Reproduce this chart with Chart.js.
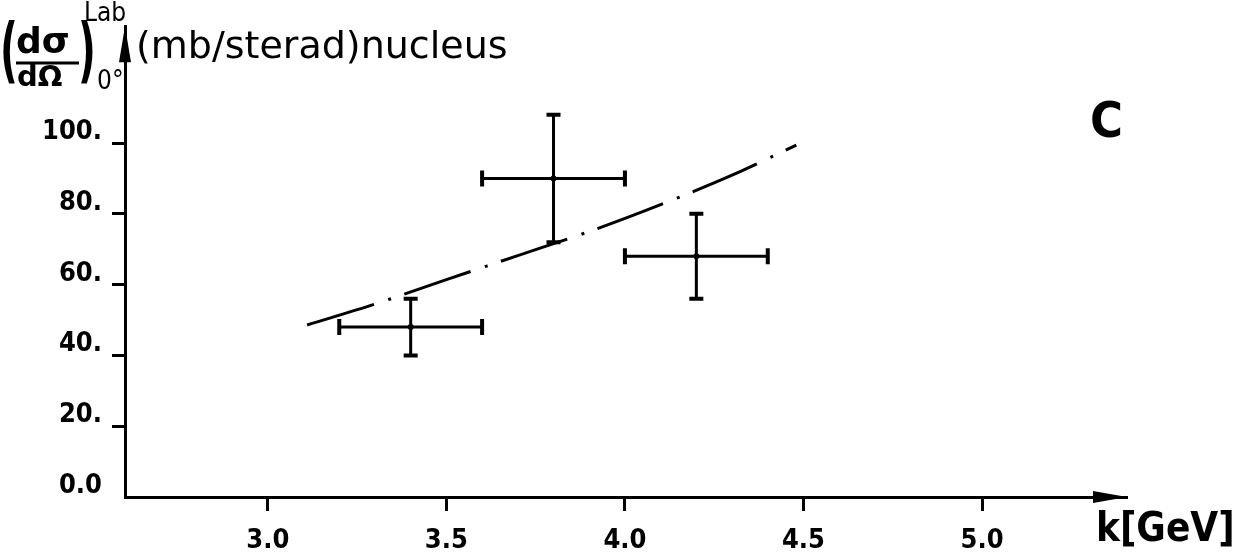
<!DOCTYPE html>
<html>
<head>
<meta charset="utf-8">
<title>Forward cross section, carbon</title>
<script src="https://cdn.jsdelivr.net/npm/chart.js@4.4.1/dist/chart.umd.min.js"></script>
<style>
  html, body { margin: 0; padding: 0; background: #fff; }
  #wrap { width: 1248px; height: 558px; }
</style>
</head>
<body>
<div id="wrap"><canvas id="xs-canvas" width="1248" height="558"></canvas></div>
<script>
    'use strict';

    // measured points, k in GeV, cross section in mb/sterad
    var kValues = [3.4, 3.8, 4.2];
    var kErrors = [0.2, 0.2, 0.2];
    var sigmaValues = [48, 90, 68];
    var sigmaErrors = [8, 18, 12];

    // dash-dot curve
    var curveK = [3.11, 3.3, 3.5, 3.7, 3.9, 4.1, 4.3, 4.48];
    var curveSigma = [48.6, 54.5, 61.4, 68.2, 75, 82.6, 90.9, 99.4];

    // ticks
    var xTicks = [3.0, 3.5, 4.0, 4.5, 5.0];
    var xTickLabels = ['3.0', '3.5', '4.0', '4.5', '5.0'];
    var yTicks = [0, 20, 40, 60, 80, 100];
    var yTickLabels = ['0.0', '20.', '40.', '60.', '80.', '100.'];

    var tickFont = "'DejaVu Sans Condensed', 'DejaVu Sans', sans-serif";

    function toPoints(xs, ys) {
        var out = [];
        for (var i = 0; i < xs.length; i++) {
            out.push({x: xs[i], y: ys[i]});
        }
        return out;
    }

    // crosses with end caps
    var errorBars = {
        id: 'errorBars',
        afterDatasetsDraw: function(chart) {
            var ctx = chart.ctx;
            var xs = chart.scales.x;
            var ys = chart.scales.y;
            ctx.save();
            ctx.strokeStyle = '#000';
            ctx.lineWidth = 3;
            for (var i = 0; i < kValues.length; i++) {
                var x = xs.getPixelForValue(kValues[i]);
                var x0 = xs.getPixelForValue(kValues[i] - kErrors[i]);
                var x1 = xs.getPixelForValue(kValues[i] + kErrors[i]);
                var y = ys.getPixelForValue(sigmaValues[i]);
                var yt = ys.getPixelForValue(sigmaValues[i] + sigmaErrors[i]);
                var yb = ys.getPixelForValue(sigmaValues[i] - sigmaErrors[i]);
                ctx.beginPath();
                ctx.moveTo(x0, y); ctx.lineTo(x1, y);
                ctx.moveTo(x, yt); ctx.lineTo(x, yb);
                ctx.stroke();
                ctx.lineWidth = 4;
                ctx.beginPath();
                ctx.moveTo(x0, y - 8); ctx.lineTo(x0, y + 8);
                ctx.moveTo(x1, y - 8); ctx.lineTo(x1, y + 8);
                ctx.moveTo(x - 7, yt); ctx.lineTo(x + 7, yt);
                ctx.moveTo(x - 7, yb); ctx.lineTo(x + 7, yb);
                ctx.stroke();
                ctx.lineWidth = 3;
            }
            ctx.restore();
        }
    };

    // axis arrows and the hand lettering
    var decorations = {
        id: 'decorations',
        afterDraw: function(chart) {
            var ctx = chart.ctx;
            var a = chart.chartArea;
            ctx.save();
            ctx.fillStyle = '#000';
            ctx.strokeStyle = '#000';

            ctx.beginPath();
            ctx.moveTo(a.right, a.bottom);
            ctx.lineTo(a.right - 34, a.bottom - 6);
            ctx.lineTo(a.right - 34, a.bottom + 6);
            ctx.closePath();
            ctx.fill();

            ctx.beginPath();
            ctx.moveTo(a.left, a.top);
            ctx.lineTo(a.left - 6, a.top + 36);
            ctx.lineTo(a.left + 6, a.top + 36);
            ctx.closePath();
            ctx.fill();

            ctx.textAlign = 'left';
            ctx.textBaseline = 'alphabetic';

            // (d sigma / d Omega) with tall parens
            ctx.font = 'bold 71px DejaVu Sans';
            ctx.save();
            ctx.translate(0, 74);
            ctx.scale(0.55, 1);
            ctx.fillText('(', 0, 0);
            ctx.fillText(')', 142, 0);
            ctx.restore();

            ctx.font = 'bold 36px DejaVu Sans';
            ctx.fillText('dσ', 16, 53);
            ctx.font = 'bold 29px DejaVu Sans';
            ctx.fillText('dΩ', 17, 86);
            ctx.lineWidth = 3;
            ctx.beginPath();
            ctx.moveTo(16, 63);
            ctx.lineTo(79, 63);
            ctx.stroke();

            ctx.font = '26px ' + tickFont;
            ctx.fillText('Lab', 84, 21);
            ctx.fillText('0°', 97, 89);

            ctx.font = '38px DejaVu Sans';
            ctx.fillText('(mb/sterad)nucleus', 136, 58);

            ctx.font = 'bold 50px ' + tickFont;
            ctx.fillText('C', 1090, 137);

            ctx.font = 'bold 40px ' + tickFont;
            ctx.fillText('k[GeV]', 1096, 541);

            ctx.restore();
        }
    };

    var ctx = document.getElementById('xs-canvas').getContext('2d');
    var chartObj = new Chart(ctx, {
        type: 'scatter',
        data: {
            datasets: [{
                label: 'curve',
                type: 'line',
                data: toPoints(curveK, curveSigma),
                borderColor: '#000',
                borderWidth: 3,
                borderDash: [70, 15, 3, 14],
                cubicInterpolationMode: 'monotone',
                pointRadius: 0,
                fill: false
            }, {
                label: 'data',
                data: toPoints(kValues, sigmaValues),
                backgroundColor: '#000',
                borderColor: '#000',
                pointRadius: 3,
                borderWidth: 0
            }]
        },
        options: {
            responsive: false,
            animation: false,
            devicePixelRatio: 1,
            layout: {
                padding: {left: 0, top: 18, right: 121, bottom: 0}
            },
            plugins: {
                legend: {display: false},
                tooltip: {enabled: false}
            },
            scales: {
                x: {
                    type: 'linear',
                    min: 2.6,
                    max: 5.406,
                    afterBuildTicks: function(s) {
                        s.ticks = xTicks.map(function(v) { return {value: v}; });
                    },
                    afterFit: function(s) { s.height = 61; },
                    border: {display: true, color: '#000', width: 3},
                    grid: {
                        drawOnChartArea: false,
                        drawTicks: true,
                        tickLength: 14,
                        tickWidth: 3,
                        tickColor: '#000'
                    },
                    ticks: {
                        color: '#000',
                        padding: 14,
                        maxRotation: 0,
                        font: {family: tickFont, size: 27, weight: 'bold'},
                        callback: function(v) {
                            var i = xTicks.indexOf(v);
                            return i < 0 ? '' : xTickLabels[i];
                        }
                    }
                },
                y: {
                    type: 'linear',
                    min: 0,
                    max: 133,
                    afterBuildTicks: function(s) {
                        s.ticks = yTicks.map(function(v) { return {value: v}; });
                    },
                    afterFit: function(s) { s.width = 125; },
                    border: {display: true, color: '#000', width: 3},
                    grid: {
                        drawOnChartArea: false,
                        drawTicks: true,
                        tickLength: 13,
                        tickWidth: 3,
                        tickColor: function(c) {
                            return c.tick && c.tick.value === 0 ? 'rgba(0,0,0,0)' : '#000';
                        }
                    },
                    ticks: {
                        color: '#000',
                        padding: 10,
                        labelOffset: -11,
                        font: {family: tickFont, size: 27, weight: 'bold'},
                        callback: function(v) {
                            var i = yTicks.indexOf(v);
                            return i < 0 ? '' : yTickLabels[i];
                        }
                    }
                }
            }
        },
        plugins: [errorBars, decorations]
    });
</script>
</body>
</html>
